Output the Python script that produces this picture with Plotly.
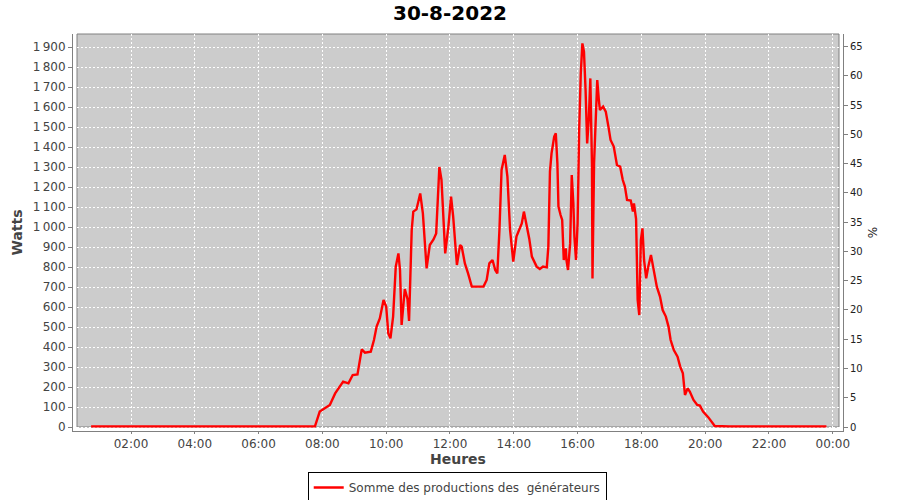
import plotly.graph_objects as go

DATE = "2022-08-30"
TITLE = "30-8-2022"
SERIES_NAME = "Somme des productions des  générateurs"

times = [
    "00:45", "01:15", "01:45", "02:15", "02:45", "03:15", "03:45", "04:15",
    "04:45", "05:15", "05:45", "06:15", "06:45", "07:15", "07:46",
    "07:55", "08:02", "08:14", "08:24", "08:33", "08:39", "08:49", "08:57",
    "09:06", "09:09", "09:14", "09:20", "09:31", "09:37", "09:42", "09:48",
    "09:55", "10:00", "10:04", "10:08", "10:13", "10:18", "10:23", "10:26",
    "10:29", "10:35", "10:40", "10:43", "10:48", "10:51", "10:57", "11:04",
    "11:09", "11:16", "11:22", "11:29", "11:34", "11:40", "11:44", "11:51",
    "11:57", "12:02", "12:06", "12:13", "12:19", "12:22", "12:28", "12:34",
    "12:41", "13:03", "13:09", "13:14", "13:20", "13:25", "13:29", "13:33",
    "13:37", "13:43", "13:48", "13:53", "13:59", "14:05", "14:10", "14:15",
    "14:19", "14:24", "14:29", "14:34", "14:43", "14:49", "14:55", "15:02",
    "15:05", "15:08", "15:11", "15:16", "15:19", "15:22", "15:24", "15:28",
    "15:31", "15:34", "15:38", "15:39", "15:42", "15:46", "15:49", "15:52",
    "15:54", "15:57", "16:00", "16:03", "16:06", "16:09", "16:12", "16:15",
    "16:18", "16:21", "16:24", "16:27", "16:28", "16:31", "16:35", "16:37",
    "16:40", "16:42", "16:48", "16:53", "16:58", "17:02", "17:08", "17:14",
    "17:20", "17:25", "17:29", "17:33", "17:40", "17:44", "17:46", "17:50",
    "17:53", "17:56", "17:59", "18:02", "18:05", "18:09", "18:13", "18:18",
    "18:22", "18:29", "18:35", "18:40", "18:46", "18:51", "18:55", "19:01",
    "19:08", "19:13", "19:18", "19:22", "19:27", "19:31", "19:38", "19:45",
    "19:50", "19:56", "20:06", "20:12", "20:18", "20:45", "21:15", "21:45",
    "22:15", "22:45", "23:15", "23:48",
]

watts = [
    3, 3, 4, 3, 3, 3, 3, 3,
    3, 3, 3, 3, 4, 4, 3,
    77, 88, 110, 168, 202, 227, 218, 260,
    263, 310, 388, 372, 377, 435, 502, 543,
    635, 602, 468, 443, 552, 802, 868, 785,
    510, 690, 640, 530, 985, 1077, 1088, 1168,
    1068, 793, 910, 938, 968, 1300, 1235, 868,
    1002, 1152, 1052, 810, 910, 902, 818, 768,
    702, 702, 735, 818, 835, 785, 768, 985,
    1285, 1360, 1252, 985, 827, 952, 985, 1018,
    1077, 1010, 943, 852, 802, 790, 802, 798,
    902, 1277, 1368, 1452, 1468, 1318, 1102, 1060,
    1035, 835, 893, 835, 785, 918, 1260, 1118,
    952, 835, 1018, 1485, 1768, 1918, 1877, 1685,
    1418, 1535, 1743, 1318, 743, 1318, 1652, 1735,
    1635, 1585, 1602, 1577, 1502, 1435, 1402, 1310,
    1302, 1235, 1202, 1135, 1132, 1077, 1118, 1040,
    635, 560, 935, 993, 835, 743, 802, 860,
    802, 702, 652, 585, 552, 502, 435, 385,
    352, 302, 268, 160, 193, 177, 135, 110,
    107, 77, 48, 27, 5, 3, 3, 3,
    3, 3, 3, 3,
]

watt_ticks = list(range(0, 2000, 100))
watt_tick_text = [f"{v:,}".replace(",", "\u2009") if v >= 1000 else str(v) for v in watt_ticks]
pct_ticks = list(range(0, 70, 5))

x = [f"{DATE} {t}" for t in times]

fig = go.Figure()
fig.add_trace(go.Scatter(
    x=x, y=watts, mode="lines", name=SERIES_NAME,
    line=dict(color="#ff0000", width=2.4),
))
fig.add_trace(go.Scatter(
    x=[x[0]], y=[None], yaxis="y2", mode="lines", showlegend=False,
    hoverinfo="skip",
))

# geometry (pixels)
W, H = 900, 500
ML, MR, MT, MB = 73, 57, 34, 69
pw, ph = W - ML - MR, H - MT - MB
inset = 4

fig.add_shape(
    type="rect", xref="paper", yref="paper", layer="below",
    x0=inset / pw, x1=1 - inset / pw, y0=inset / ph, y1=1,
    fillcolor="#cccccc", line=dict(color="#808080", width=1),
)

font = "DejaVu Sans, Verdana, sans-serif"
fig.update_layout(
    width=W, height=H,
    margin=dict(l=ML, r=MR, t=MT, b=MB, autoexpand=False),
    paper_bgcolor="white", plot_bgcolor="white",
    font=dict(family=font, size=12, color="#444444"),
    title=dict(text=f"<b>{TITLE}</b>", x=0.5, xanchor="center", y=0.975, yanchor="middle",
               font=dict(size=20, color="black", family=font)),
    showlegend=True,
    legend=dict(orientation="h", x=0.499, xanchor="center", y=-41 / ph, yanchor="top",
                bordercolor="black", borderwidth=1, bgcolor="white",
                font=dict(size=12, color="#444444"), itemwidth=30,
                tracegroupgap=0),
    xaxis=dict(
        type="date", automargin=False,
        range=[f"{DATE} 00:10:55", "2022-08-31 00:19:12"],
        tick0=f"{DATE} 00:00", dtick=7200000, tickformat="%H:%M",
        showgrid=True, gridcolor="white", griddash="2px,2px", gridwidth=1,
        showline=True, linecolor="#808080", linewidth=1,
        ticks="outside", ticklen=2, tickcolor="#808080",
        zeroline=False,
        title=dict(text="<b>Heures</b>", font=dict(size=14, color="#444444"), standoff=3),
        tickfont=dict(size=12, color="#444444"),
    ),
    yaxis=dict(
        automargin=False,
        range=[-20, 1965],
        tickvals=watt_ticks, ticktext=watt_tick_text,
        showgrid=True, gridcolor="white", griddash="2px,2px", gridwidth=1,
        showline=True, linecolor="#808080", linewidth=1,
        ticks="outside", ticklen=4, tickcolor="#808080",
        zeroline=False,
        title=dict(text="<b>Watts</b>", font=dict(size=14, color="#444444"), standoff=6),
        tickfont=dict(size=12, color="#444444"),
    ),
    yaxis2=dict(
        automargin=False,
        overlaying="y", side="right",
        range=[-0.684, 67.17],
        tickvals=pct_ticks,
        showgrid=False, zeroline=False,
        showline=True, linecolor="#808080", linewidth=1,
        ticks="outside", ticklen=4, tickcolor="#808080",
        title=dict(text="%", font=dict(size=12, color="#222222"), standoff=6),
        tickfont=dict(size=10, color="#222222"),
    ),
)

fig.write_html(
    "out.html",
    config={"displayModeBar": False},
    post_script="document.body.style.margin='0px';document.body.style.padding='0px';",
)
